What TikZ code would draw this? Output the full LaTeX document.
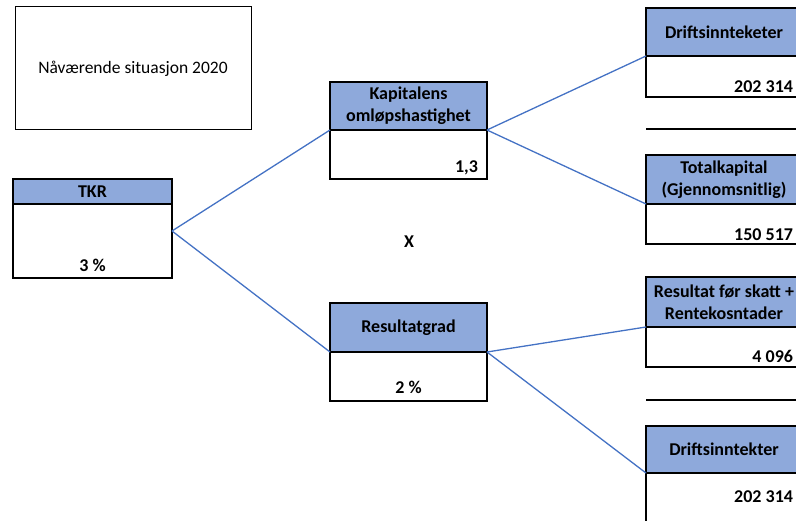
\documentclass[tikz,border=0pt]{standalone}
\usepackage{fontspec}
\setmainfont{Carlito}
\definecolor{hdrfill}{RGB}{142,169,219}
\definecolor{linkblue}{RGB}{68,114,196}
\begin{document}
\begin{tikzpicture}[x=1pt,y=-1pt,
  every node/.style={outer sep=0pt,inner sep=0pt},
  txt/.style={font=\fontsize{17.5}{22}\selectfont},
  hdr/.style={draw=black,line width=1.7pt,fill=hdrfill,anchor=north west,align=center,
    font=\fontsize{18}{22}\selectfont\bfseries},
  bodybox/.style={draw=black,line width=1.7pt,fill=white,anchor=north west},
  val/.style={font=\fontsize{18}{22}\selectfont\bfseries},
  link/.style={draw=linkblue,line width=1.3pt},
  rule/.style={draw=black,line width=1.7pt}]
\useasboundingbox (0,0) rectangle (796,521);
% title box
\node[draw=black,line width=1pt,anchor=north west,minimum width=236pt,minimum height=123pt,txt] (title) at (15,7) {Nåværende situasjon 2020};
% TKR
\node[hdr,minimum width=159pt,minimum height=25pt] (tkrh) at (13,179) {TKR};
\node[bodybox,minimum width=159pt,minimum height=74pt] (tkrb) at (13,204) {};
\node[val,anchor=base] (tkrv) at (92.5,272) {3 \%};
% Kapitalens
\node[hdr,minimum width=157pt,minimum height=48pt] (kaph) at (330,82) {Kapitalens\\omløpshastighet};
\node[bodybox,minimum width=157pt,minimum height=49pt] (kapb) at (330,130) {};
\node[val,anchor=base east] (kapv) at (478,173) {1,3};
% Resultatgrad
\node[hdr,minimum width=157pt,minimum height=49pt] (resh) at (330,303) {Resultatgrad};
\node[bodybox,minimum width=157pt,minimum height=49pt] (resb) at (330,352) {};
\node[val,anchor=base] (resv) at (408.5,394) {2 \%};
% X
\node[val] (x) at (409,242) {X};
% right boxes
\node[hdr,minimum width=156pt,minimum height=48pt] (d1h) at (646,8) {Driftsinnteketer};
\node[bodybox,minimum width=156pt,minimum height=41pt] (d1b) at (646,56) {};
\node[val,anchor=base east] (d1v) at (793,93) {202 314};
\node[hdr,minimum width=156pt,minimum height=49pt] (tkh) at (646,155) {Totalkapital\\(Gjennomsnitlig)};
\node[bodybox,minimum width=156pt,minimum height=40pt] (tkb) at (646,204) {};
\node[val,anchor=base east] (tkv) at (793,241) {150 517};
\node[hdr,minimum width=156pt,minimum height=50pt] (rfh) at (646,277) {Resultat før skatt +\\Rentekosntader};
\node[bodybox,minimum width=156pt,minimum height=40pt] (rfb) at (646,327) {};
\node[val,anchor=base east] (rfv) at (793,363) {4 096};
\node[hdr,minimum width=156pt,minimum height=47pt] (d2h) at (646,426) {Driftsinntekter};
\node[bodybox,minimum width=156pt,minimum height=60pt] (d2b) at (646,473) {};
\node[val,anchor=base east] (d2v) at (793,502) {202 314};
% rules
\coordinate (r1a) at (646,129); \coordinate (r1b) at (802,129);
\coordinate (r2a) at (646,400); \coordinate (r2b) at (802,400);
\draw[rule] (r1a) -- (r1b);
\draw[rule] (r2a) -- (r2b);
% connectors
\draw[link] ([yshift=10pt]tkrb.east) -- (kaph.south west);
\draw[link] ([yshift=10pt]tkrb.east) -- (resh.south west);
\draw[link] (kaph.south east) -- (d1h.south west);
\draw[link] (kaph.south east) -- (tkh.south west);
\draw[link] (resh.south east) -- (rfh.south west);
\draw[link] (resh.south east) -- (d2h.south west);
\end{tikzpicture}
\end{document}
